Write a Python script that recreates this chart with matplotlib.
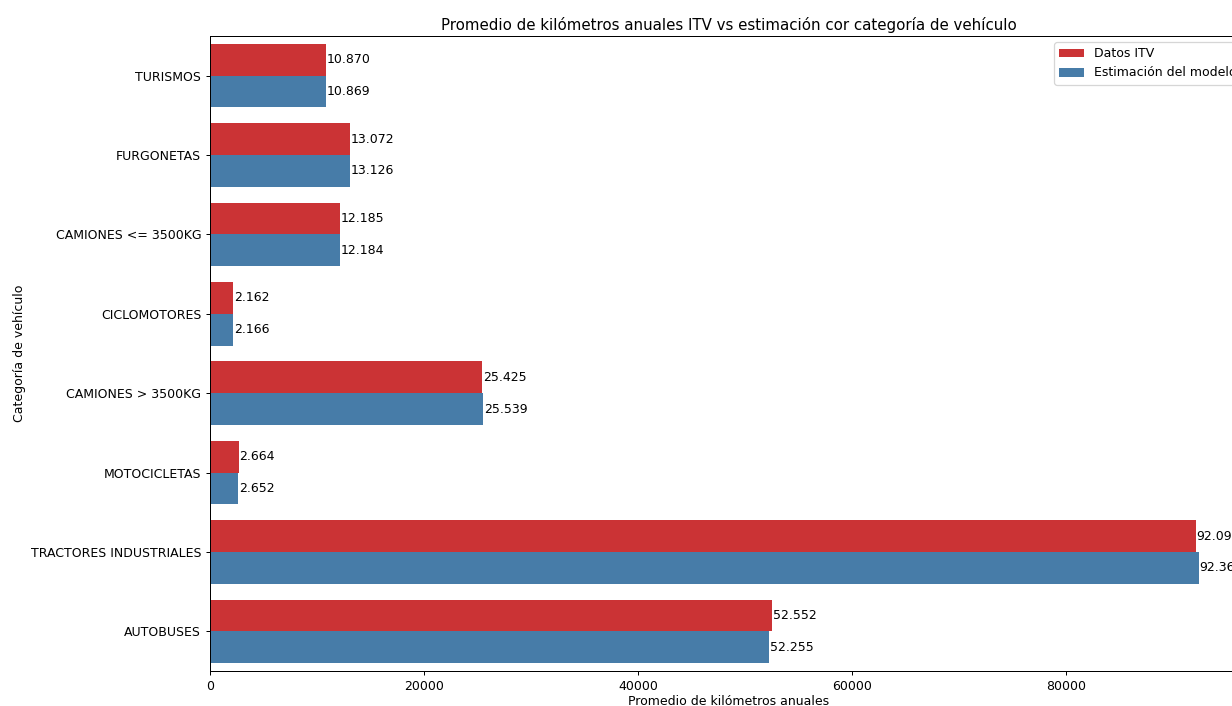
import matplotlib
matplotlib.use('Agg')
import matplotlib.pyplot as plt
import numpy as np
import pandas as pd
import seaborn as sns

categorias = ['TURISMOS', 'FURGONETAS', 'CAMIONES <= 3500KG', 'CICLOMOTORES',
              'CAMIONES > 3500KG', 'MOTOCICLETAS', 'TRACTORES INDUSTRIALES', 'AUTOBUSES']
datos_itv = [10870, 13072, 12185, 2162, 25425, 2664, 92095, 52552]
estimacion = [10869, 13126, 12184, 2166, 25539, 2652, 92362, 52255]
series = ['Datos ITV', 'Estimación del modelo']

df = pd.DataFrame({
    'categoria': categorias * 2,
    'km': datos_itv + estimacion,
    'fuente': [series[0]] * len(categorias) + [series[1]] * len(categorias),
})

dpi = 90
fig = plt.figure(figsize=(1232 / dpi, 706 / dpi), dpi=dpi)
ax = fig.add_axes([210 / 1232, 35 / 706, (1248 - 210) / 1232, (671 - 36) / 706])

sns.barplot(data=df, y='categoria', x='km', hue='fuente', palette='Set1',
            orient='h', ax=ax, errorbar=None)

for cont in ax.containers:
    labels = ['{:,.0f}'.format(b.get_width()).replace(',', '.') for b in cont]
    ax.bar_label(cont, labels=labels, padding=0.5, fontsize=10)

ax.set_title('Promedio de kilómetros anuales ITV vs estimación cor categoría de vehículo',
             fontsize=12, pad=5)
ax.set_xlabel('Promedio de kilómetros anuales', labelpad=2)
ax.set_ylabel('Categoría de vehículo')
ax.legend(loc='upper right')

fig.savefig('out.png', dpi=dpi)
